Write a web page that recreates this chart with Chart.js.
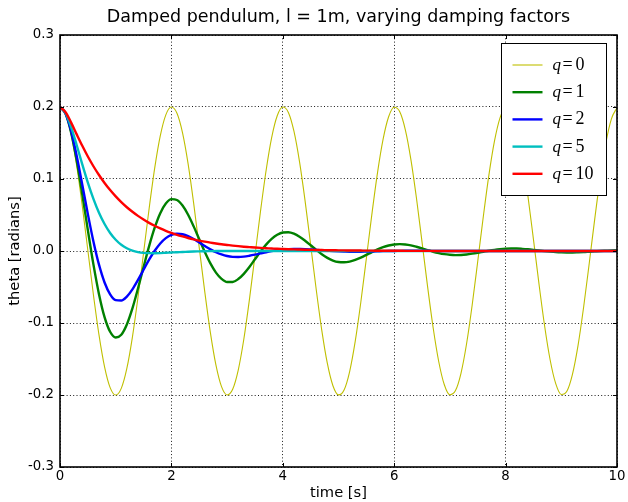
<!DOCTYPE html>
<html>
<head>
<meta charset="utf-8">
<script src="https://cdn.jsdelivr.net/npm/chart.js@4.4.1/dist/chart.umd.min.js"></script>
<style>
  html, body { margin: 0; padding: 0; background: #fff; }
  #wrap { width: 628px; height: 502px; }
</style>
</head>
<body>
<div id="wrap"><canvas id="c" width="628" height="502"></canvas></div>
<script>
// ---- data ----
const times = [0.0,0.1,0.2,0.3,0.4,0.5,0.6,0.7,0.8,0.9,1.0,1.1,1.2,1.3,1.4,1.5,1.6,1.7,1.8,1.9,
  2.0,2.1,2.2,2.3,2.4,2.5,2.6,2.7,2.8,2.9,3.0,3.1,3.2,3.3,3.4,3.5,3.6,3.7,3.8,3.9,
  4.0,4.1,4.2,4.3,4.4,4.5,4.6,4.7,4.8,4.9,5.0,5.1,5.2,5.3,5.4,5.5,5.6,5.7,5.8,5.9,
  6.0,6.1,6.2,6.3,6.4,6.5,6.6,6.7,6.8,6.9,7.0,7.1,7.2,7.3,7.4,7.5,7.6,7.7,7.8,7.9,
  8.0,8.1,8.2,8.3,8.4,8.5,8.6,8.7,8.8,8.9,9.0,9.1,9.2,9.3,9.4,9.5,9.6,9.7,9.8,9.9,10.0];

const q0 = [0.2000,0.1903,0.1620,0.1180,0.0625,0.0010,-0.0607,-0.1165,-0.1609,-0.1897,
  -0.2000,-0.1908,-0.1631,-0.1195,-0.0643,-0.0028,0.0589,0.1150,0.1598,0.1891,
  0.2000,0.1914,0.1642,0.1211,0.0661,0.0047,-0.0571,-0.1134,-0.1586,-0.1884,
  -0.1999,-0.1919,-0.1653,-0.1226,-0.0679,-0.0066,0.0553,0.1118,0.1575,0.1878,
  0.1999,0.1925,0.1664,0.1241,0.0697,0.0085,-0.0534,-0.1102,-0.1562,-0.1871,
  -0.1998,-0.1930,-0.1674,-0.1256,-0.0715,-0.0104,0.0516,0.1086,0.1550,0.1865,
  0.1997,0.1935,0.1684,0.1270,0.0732,0.0123,-0.0498,-0.1070,-0.1538,-0.1858,
  -0.1996,-0.1939,-0.1695,-0.1285,-0.0750,-0.0142,0.0479,0.1054,0.1526,0.1850,
  0.1994,0.1944,0.1705,0.1299,0.0768,0.0161,-0.0461,-0.1038,-0.1514,-0.1843,
  -0.1993,-0.1948,-0.1714,-0.1314,-0.0785,-0.0180,0.0442,0.1022,0.1502,0.1836,0.1991];

const q1 = [0.2000,0.1906,0.1644,0.1255,0.0787,0.0290,-0.0186,-0.0599,-0.0918,-0.1122,
  -0.1202,-0.1163,-0.1020,-0.0797,-0.0521,-0.0223,0.0068,0.0324,0.0526,0.0660,
  0.0720,0.0708,0.0631,0.0504,0.0342,0.0163,-0.0014,-0.0172,-0.0300,-0.0387,
  -0.0431,-0.0430,-0.0390,-0.0317,-0.0222,-0.0115,-0.0008,0.0089,0.0169,0.0226,
  0.0257,0.0260,0.0240,0.0199,0.0143,0.0080,0.0015,-0.0045,-0.0095,-0.0132,
  -0.0153,-0.0157,-0.0147,-0.0124,-0.0092,-0.0054,-0.0015,0.0022,0.0053,0.0076,
  0.0090,0.0095,0.0090,0.0078,0.0059,0.0037,0.0013,-0.0010,-0.0029,-0.0044,
  -0.0053,-0.0057,-0.0055,-0.0048,-0.0037,-0.0024,-0.0010,0.0004,0.0016,0.0025,
  0.0031,0.0034,0.0034,0.0030,0.0024,0.0016,0.0007,-0.0001,-0.0008,-0.0014,
  -0.0018,-0.0020,-0.0020,-0.0018,-0.0015,-0.0010,-0.0005,0.0000,0.0004,0.0008,0.0011];

const q2 = [0.2000,0.1909,0.1666,0.1320,0.0921,0.0512,0.0133,-0.0190,-0.0437,-0.0601,
  -0.0682,-0.0688,-0.0633,-0.0532,-0.0402,-0.0260,-0.0121,0.0003,0.0105,0.0179,
  0.0224,0.0240,0.0233,0.0207,0.0167,0.0119,0.0070,0.0023,-0.0017,-0.0048,
  -0.0070,-0.0081,-0.0083,-0.0078,-0.0066,-0.0051,-0.0034,-0.0017,-0.0002,0.0011,
  0.0020,0.0026,0.0029,0.0028,0.0026,0.0021,0.0015,0.0009,0.0004,-0.0001,
  -0.0005,-0.0008,-0.0010,-0.0010,-0.0010,-0.0008,-0.0006,-0.0004,-0.0002,-0.0001,
  0.0001,0.0002,0.0003,0.0003,0.0003,0.0003,0.0003,0.0002,0.0001,0.0001,
  0,0,0,0,0,0,0,0,0,0, 0,0,0,0,0,0,0,0,0,0, 0,0,0,0,0,0,0,0,0,0,0];

const q5 = [0.2000,0.1917,0.1720,0.1469,0.1204,0.0951,0.0725,0.0532,0.0375,0.0250,
  0.0156,0.0086,0.0038,0.0005,-0.0015,-0.0026,-0.0030,-0.0031,-0.0029,-0.0025,
  -0.0021,-0.0017,-0.0014,-0.0010,-0.0007,-0.0005,-0.0003,-0.0002,-0.0001,0.0000,
  0,0,0,0,0,0,0,0,0,0, 0,0,0,0,0,0,0,0,0,0, 0,0,0,0,0,0,0,0,0,0,
  0,0,0,0,0,0,0,0,0,0, 0,0,0,0,0,0,0,0,0,0, 0,0,0,0,0,0,0,0,0,0, 0,0,0,0,0,0,0,0,0,0,0];

const q10 = [0.2000,0.1928,0.1783,0.1620,0.1461,0.1312,0.1177,0.1055,0.0945,0.0846,
  0.0758,0.0679,0.0608,0.0545,0.0488,0.0437,0.0391,0.0350,0.0314,0.0281,
  0.0252,0.0225,0.0202,0.0181,0.0162,0.0145,0.0130,0.0116,0.0104,0.0093,
  0.0084,0.0075,0.0067,0.0060,0.0054,0.0048,0.0043,0.0039,0.0035,0.0031,
  0.0028,0.0025,0.0022,0.0020,0.0018,0.0016,0.0014,0.0013,0.0011,0.0010,
  0.0009,0.0008,0.0007,0.0007,0.0006,0.0005,0.0005,0.0004,0.0004,0.0003,
  0.0003,0.0003,0.0002,0.0002,0.0002,0.0002,0.0002,0.0001,0.0001,0.0001,
  0.0001,0.0001,0.0001,0.0001,0.0001,0,0,0,0,0, 0,0,0,0,0,0,0,0,0,0, 0,0,0,0,0,0,0,0,0,0,0];

const seriesLabels = ['q=0', 'q=1', 'q=2', 'q=5', 'q=10'];
const seriesValues = [q0, q1, q2, q5, q10];
const seriesColors = ['#bfbf00', '#008000', '#0000ff', '#00bfbf', '#ff0000'];
const seriesWidths = [1.1, 2.4, 2.4, 2.4, 2.4];

const xTicks = [0, 2, 4, 6, 8, 10];
const xTickLabels = ['0', '2', '4', '6', '8', '10'];
const yTicks = [-0.3, -0.2, -0.1, 0.0, 0.1, 0.2, 0.3];
const yTickLabels = ['-0.3', '-0.2', '-0.1', '0.0', '0.1', '0.2', '0.3'];

const titleText = 'Damped pendulum, l = 1m, varying damping factors';
const xTitle = 'time [s]';
const yTitle = 'theta [radians]';

// ---- chart ----
const FONT = 'DejaVu Sans';

const datasets = seriesLabels.map((lab, i) => ({
  label: lab,
  data: times.map((t, j) => ({ x: t, y: seriesValues[i][j] })),
  borderColor: seriesColors[i],
  backgroundColor: seriesColors[i],
  borderWidth: seriesWidths[i],
  pointRadius: 0,
  pointHoverRadius: 0,
  fill: false,
  cubicInterpolationMode: 'monotone',
  order: seriesLabels.length - i
}));

const framePlugin = {
  id: 'frame',
  afterDraw(chart) {
    const { ctx, chartArea: a, scales } = chart;
    ctx.save();
    // inward tick marks
    ctx.strokeStyle = '#000';
    ctx.lineWidth = 1;
    ctx.beginPath();
    xTicks.forEach(v => {
      const px = Math.round(scales.x.getPixelForValue(v)) + 0.5;
      ctx.moveTo(px, a.bottom); ctx.lineTo(px, a.bottom - 4);
      ctx.moveTo(px, a.top); ctx.lineTo(px, a.top + 4);
    });
    yTicks.forEach(v => {
      const py = Math.round(scales.y.getPixelForValue(v)) + 0.5;
      ctx.moveTo(a.left, py); ctx.lineTo(a.left + 4, py);
      ctx.moveTo(a.right, py); ctx.lineTo(a.right - 4, py);
    });
    ctx.stroke();
    // frame
    ctx.strokeStyle = '#000';
    ctx.lineWidth = 1.6;
    ctx.strokeRect(a.left, a.top, a.right - a.left, a.bottom - a.top);

    // legend
    const bx = Math.round(a.right - 11) + 0.5;
    const bw = 105;
    const by = Math.round(a.top + 8) + 0.5;
    const bh = 152;
    const left = bx - bw;
    ctx.fillStyle = '#fff';
    ctx.fillRect(left, by, bw, bh);
    ctx.lineWidth = 1;
    ctx.strokeStyle = '#000';
    ctx.strokeRect(left, by, bw, bh);
    chart.data.datasets.forEach((ds, i) => {
      const y = by + 21.5 + i * 27.2;
      ctx.strokeStyle = ds.borderColor;
      ctx.lineWidth = ds.borderWidth;
      ctx.beginPath();
      ctx.moveTo(left + 11, y);
      ctx.lineTo(left + 41, y);
      ctx.stroke();
      const parts = ds.label.split('=');
      ctx.fillStyle = '#000';
      ctx.textBaseline = 'alphabetic';
      ctx.textAlign = 'left';
      ctx.font = 'italic 17px "Liberation Serif"';
      ctx.fillText(parts[0], left + 51, y + 5);
      ctx.font = '18px "Liberation Serif"';
      ctx.fillText('=', left + 61, y + 5);
      ctx.fillText(parts[1], left + 74, y + 5);
    });
    ctx.restore();
  }
};

new Chart(document.getElementById('c'), {
  type: 'line',
  data: { datasets },
  options: {
    responsive: false,
    animation: false,
    events: [],
    layout: { padding: { left: 0, right: 11, top: 0, bottom: 0 } },
    plugins: {
      legend: { display: false },
      tooltip: { enabled: false },
      title: {
        display: true,
        text: titleText,
        fullSize: false,
        color: '#000',
        font: { family: FONT, size: 17.5, weight: 'normal', lineHeight: 1.2 },
        padding: { top: 7, bottom: 7 }
      }
    },
    scales: {
      x: {
        type: 'linear',
        min: 0, max: 10,
        afterBuildTicks(s) { s.ticks = xTicks.map(v => ({ value: v })); },
        afterFit(s) { s.height = 35; },
        ticks: {
          color: '#000',
          padding: 2,
          maxRotation: 0,
          autoSkip: false,
          font: { family: FONT, size: 13.3 },
          callback: (v, i) => xTickLabels[i]
        },
        grid: {
          color: '#000',
          lineWidth: 0.9,
          drawTicks: false
        },
        border: { display: false, dash: [1, 2.3] },
        title: {
          display: true,
          text: xTitle,
          color: '#000',
          font: { family: FONT, size: 14.7, lineHeight: 1.2 },
          padding: { top: 0, bottom: 0 }
        }
      },
      y: {
        type: 'linear',
        min: -0.3, max: 0.3,
        afterBuildTicks(s) { s.ticks = yTicks.map(v => ({ value: v })); },
        afterFit(s) { s.width = 60; },
        ticks: {
          color: '#000',
          padding: 6,
          autoSkip: false,
          font: { family: FONT, size: 13.3 },
          callback: (v, i) => yTickLabels[i]
        },
        grid: {
          color: '#000',
          lineWidth: 0.9,
          drawTicks: false
        },
        border: { display: false, dash: [1, 2.3] },
        title: {
          display: true,
          text: yTitle,
          color: '#000',
          font: { family: FONT, size: 14.7, lineHeight: 1.2 },
          padding: { top: 6, bottom: 0 }
        }
      }
    }
  },
  plugins: [framePlugin]
});
</script>
</body>
</html>
